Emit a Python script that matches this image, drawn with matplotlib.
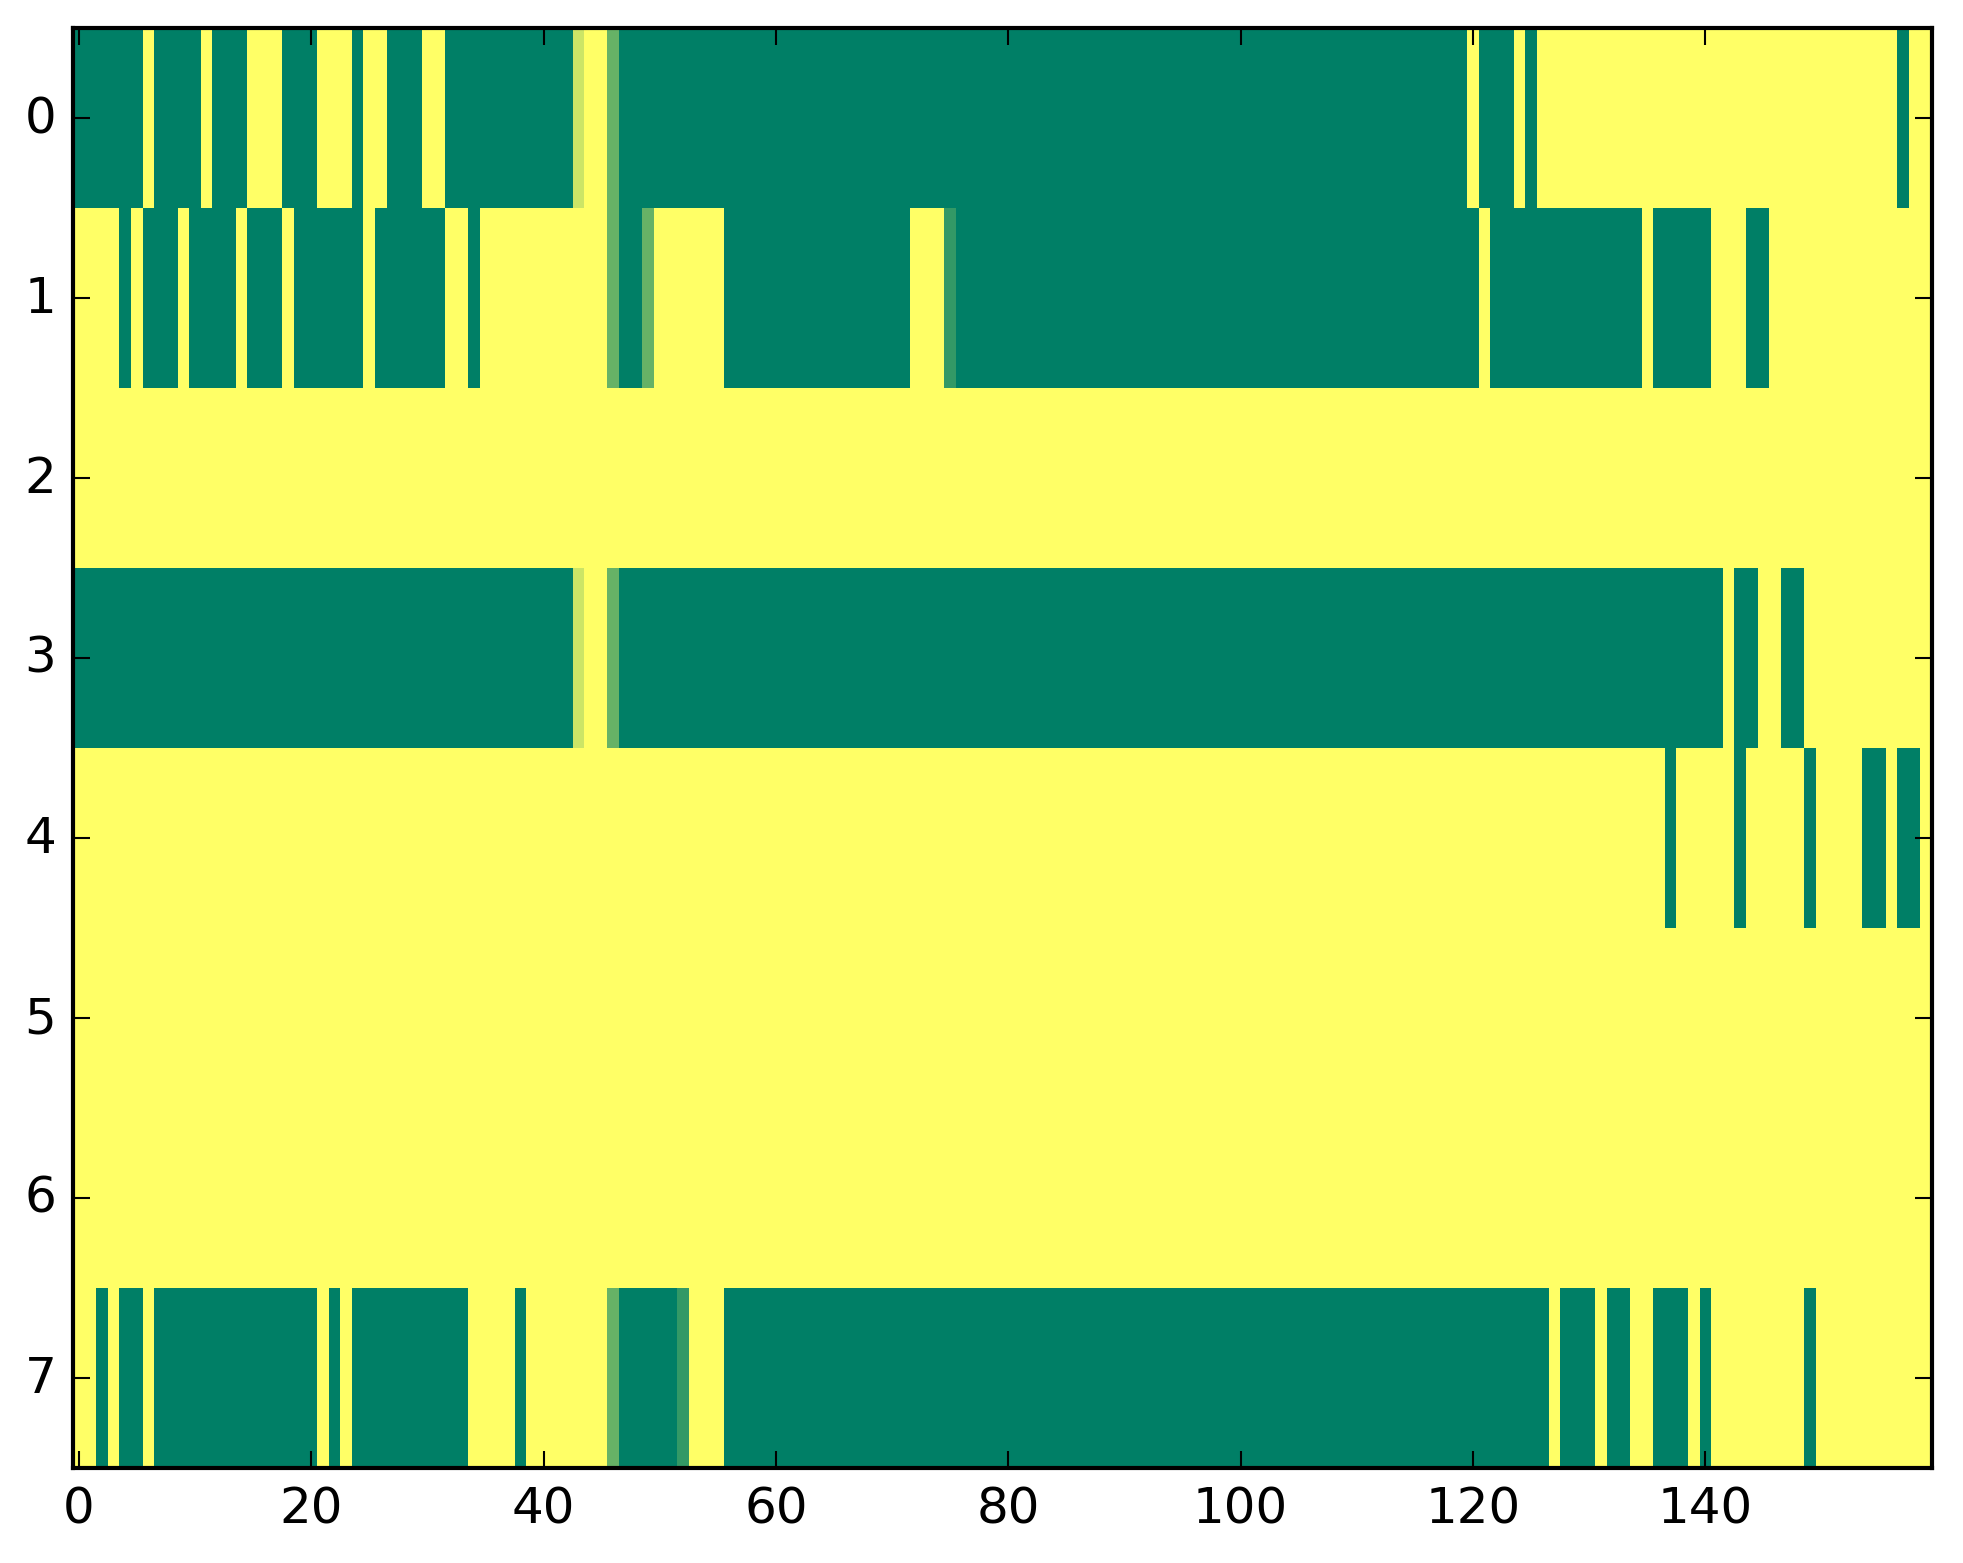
import numpy as np
import matplotlib
matplotlib.use("Agg")
import matplotlib.pyplot as plt

plt.style.use("classic")

# values per row (0 = green, 1 = yellow in 'summer'), 160 columns each
row0 = [0, 0, 0, 0, 0, 0, 1, 0, 0, 0, 0, 1, 0, 0, 0, 1, 1, 1, 0, 0,
        0, 1, 1, 1, 0, 1, 1, 0, 0, 0, 1, 1, 0, 0, 0, 0, 0, 0, 0, 0,
        0, 0, 0, 0.8, 1, 1, 0.4, 0, 0, 0, 0, 0, 0, 0, 0, 0, 0, 0, 0, 0,
        0, 0, 0, 0, 0, 0, 0, 0, 0, 0, 0, 0, 0, 0, 0, 0, 0, 0, 0, 0,
        0, 0, 0, 0, 0, 0, 0, 0, 0, 0, 0, 0, 0, 0, 0, 0, 0, 0, 0, 0,
        0, 0, 0, 0, 0, 0, 0, 0, 0, 0, 0, 0, 0, 0, 0, 0, 0, 0, 0, 0,
        1, 0, 0, 0, 1, 0, 1, 1, 1, 1, 1, 1, 1, 1, 1, 1, 1, 1, 1, 1,
        1, 1, 1, 1, 1, 1, 1, 1, 1, 1, 1, 1, 1, 1, 1, 1, 1, 0, 1, 1]

row1 = [1, 1, 1, 1, 0, 1, 0, 0, 0, 1, 0, 0, 0, 0, 1, 0, 0, 0, 1, 0,
        0, 0, 0, 0, 0, 1, 0, 0, 0, 0, 0, 0, 1, 1, 0, 1, 1, 1, 1, 1,
        1, 1, 1, 1, 1, 1, 0.4, 0, 0, 0.4, 1, 1, 1, 1, 1, 1, 0, 0, 0, 0,
        0, 0, 0, 0, 0, 0, 0, 0, 0, 0, 0, 0, 1, 1, 1, 0.2, 0, 0, 0, 0,
        0, 0, 0, 0, 0, 0, 0, 0, 0, 0, 0, 0, 0, 0, 0, 0, 0, 0, 0, 0,
        0, 0, 0, 0, 0, 0, 0, 0, 0, 0, 0, 0, 0, 0, 0, 0, 0, 0, 0, 0,
        0, 1, 0, 0, 0, 0, 0, 0, 0, 0, 0, 0, 0, 0, 0, 1, 0, 0, 0, 0,
        0, 1, 1, 1, 0, 0, 1, 1, 1, 1, 1, 1, 1, 1, 1, 1, 1, 1, 1, 1]

row2 = [1, 1, 1, 1, 1, 1, 1, 1, 1, 1, 1, 1, 1, 1, 1, 1, 1, 1, 1, 1,
        1, 1, 1, 1, 1, 1, 1, 1, 1, 1, 1, 1, 1, 1, 1, 1, 1, 1, 1, 1,
        1, 1, 1, 1, 1, 1, 1, 1, 1, 1, 1, 1, 1, 1, 1, 1, 1, 1, 1, 1,
        1, 1, 1, 1, 1, 1, 1, 1, 1, 1, 1, 1, 1, 1, 1, 1, 1, 1, 1, 1,
        1, 1, 1, 1, 1, 1, 1, 1, 1, 1, 1, 1, 1, 1, 1, 1, 1, 1, 1, 1,
        1, 1, 1, 1, 1, 1, 1, 1, 1, 1, 1, 1, 1, 1, 1, 1, 1, 1, 1, 1,
        1, 1, 1, 1, 1, 1, 1, 1, 1, 1, 1, 1, 1, 1, 1, 1, 1, 1, 1, 1,
        1, 1, 1, 1, 1, 1, 1, 1, 1, 1, 1, 1, 1, 1, 1, 1, 1, 1, 1, 1]

row3 = [0, 0, 0, 0, 0, 0, 0, 0, 0, 0, 0, 0, 0, 0, 0, 0, 0, 0, 0, 0,
        0, 0, 0, 0, 0, 0, 0, 0, 0, 0, 0, 0, 0, 0, 0, 0, 0, 0, 0, 0,
        0, 0, 0, 0.8, 1, 1, 0.4, 0, 0, 0, 0, 0, 0, 0, 0, 0, 0, 0, 0, 0,
        0, 0, 0, 0, 0, 0, 0, 0, 0, 0, 0, 0, 0, 0, 0, 0, 0, 0, 0, 0,
        0, 0, 0, 0, 0, 0, 0, 0, 0, 0, 0, 0, 0, 0, 0, 0, 0, 0, 0, 0,
        0, 0, 0, 0, 0, 0, 0, 0, 0, 0, 0, 0, 0, 0, 0, 0, 0, 0, 0, 0,
        0, 0, 0, 0, 0, 0, 0, 0, 0, 0, 0, 0, 0, 0, 0, 0, 0, 0, 0, 0,
        0, 0, 1, 0, 0, 1, 1, 0, 0, 1, 1, 1, 1, 1, 1, 1, 1, 1, 1, 1]

row4 = [1, 1, 1, 1, 1, 1, 1, 1, 1, 1, 1, 1, 1, 1, 1, 1, 1, 1, 1, 1,
        1, 1, 1, 1, 1, 1, 1, 1, 1, 1, 1, 1, 1, 1, 1, 1, 1, 1, 1, 1,
        1, 1, 1, 1, 1, 1, 1, 1, 1, 1, 1, 1, 1, 1, 1, 1, 1, 1, 1, 1,
        1, 1, 1, 1, 1, 1, 1, 1, 1, 1, 1, 1, 1, 1, 1, 1, 1, 1, 1, 1,
        1, 1, 1, 1, 1, 1, 1, 1, 1, 1, 1, 1, 1, 1, 1, 1, 1, 1, 1, 1,
        1, 1, 1, 1, 1, 1, 1, 1, 1, 1, 1, 1, 1, 1, 1, 1, 1, 1, 1, 1,
        1, 1, 1, 1, 1, 1, 1, 1, 1, 1, 1, 1, 1, 1, 1, 1, 1, 0, 1, 1,
        1, 1, 1, 0, 1, 1, 1, 1, 1, 0, 1, 1, 1, 1, 0, 0, 1, 0, 0, 1]

row5 = [1, 1, 1, 1, 1, 1, 1, 1, 1, 1, 1, 1, 1, 1, 1, 1, 1, 1, 1, 1,
        1, 1, 1, 1, 1, 1, 1, 1, 1, 1, 1, 1, 1, 1, 1, 1, 1, 1, 1, 1,
        1, 1, 1, 1, 1, 1, 1, 1, 1, 1, 1, 1, 1, 1, 1, 1, 1, 1, 1, 1,
        1, 1, 1, 1, 1, 1, 1, 1, 1, 1, 1, 1, 1, 1, 1, 1, 1, 1, 1, 1,
        1, 1, 1, 1, 1, 1, 1, 1, 1, 1, 1, 1, 1, 1, 1, 1, 1, 1, 1, 1,
        1, 1, 1, 1, 1, 1, 1, 1, 1, 1, 1, 1, 1, 1, 1, 1, 1, 1, 1, 1,
        1, 1, 1, 1, 1, 1, 1, 1, 1, 1, 1, 1, 1, 1, 1, 1, 1, 1, 1, 1,
        1, 1, 1, 1, 1, 1, 1, 1, 1, 1, 1, 1, 1, 1, 1, 1, 1, 1, 1, 1]

row6 = [1, 1, 1, 1, 1, 1, 1, 1, 1, 1, 1, 1, 1, 1, 1, 1, 1, 1, 1, 1,
        1, 1, 1, 1, 1, 1, 1, 1, 1, 1, 1, 1, 1, 1, 1, 1, 1, 1, 1, 1,
        1, 1, 1, 1, 1, 1, 1, 1, 1, 1, 1, 1, 1, 1, 1, 1, 1, 1, 1, 1,
        1, 1, 1, 1, 1, 1, 1, 1, 1, 1, 1, 1, 1, 1, 1, 1, 1, 1, 1, 1,
        1, 1, 1, 1, 1, 1, 1, 1, 1, 1, 1, 1, 1, 1, 1, 1, 1, 1, 1, 1,
        1, 1, 1, 1, 1, 1, 1, 1, 1, 1, 1, 1, 1, 1, 1, 1, 1, 1, 1, 1,
        1, 1, 1, 1, 1, 1, 1, 1, 1, 1, 1, 1, 1, 1, 1, 1, 1, 1, 1, 1,
        1, 1, 1, 1, 1, 1, 1, 1, 1, 1, 1, 1, 1, 1, 1, 1, 1, 1, 1, 1]

row7 = [1, 1, 0, 1, 0, 0, 1, 0, 0, 0, 0, 0, 0, 0, 0, 0, 0, 0, 0, 0,
        0, 1, 0, 1, 0, 0, 0, 0, 0, 0, 0, 0, 0, 0, 1, 1, 1, 1, 0, 1,
        1, 1, 1, 1, 1, 1, 0.4, 0, 0, 0, 0, 0, 0.2, 1, 1, 1, 0, 0, 0, 0,
        0, 0, 0, 0, 0, 0, 0, 0, 0, 0, 0, 0, 0, 0, 0, 0, 0, 0, 0, 0,
        0, 0, 0, 0, 0, 0, 0, 0, 0, 0, 0, 0, 0, 0, 0, 0, 0, 0, 0, 0,
        0, 0, 0, 0, 0, 0, 0, 0, 0, 0, 0, 0, 0, 0, 0, 0, 0, 0, 0, 0,
        0, 0, 0, 0, 0, 0, 0, 1, 0, 0, 0, 1, 0, 0, 1, 1, 0, 0, 0, 1,
        0, 1, 1, 1, 1, 1, 1, 1, 1, 0, 1, 1, 1, 1, 1, 1, 1, 1, 1, 1]

grid = np.array([row0, row1, row2, row3, row4, row5, row6, row7])

fig = plt.figure(figsize=(1963 / 300, 1564 / 300), dpi=300)
# axes box placed in pixel terms: left 73, right 1932, top 29, bottom 1469
ax = fig.add_axes([73 / 1963, 1 - 1469 / 1564, (1932 - 73) / 1963, (1469 - 29) / 1564])
ax.imshow(grid, cmap="summer", vmin=0, vmax=1, aspect="auto", interpolation="nearest")

ax.tick_params(labelsize=12)
plt.savefig("out.png", dpi=300, facecolor="white")
